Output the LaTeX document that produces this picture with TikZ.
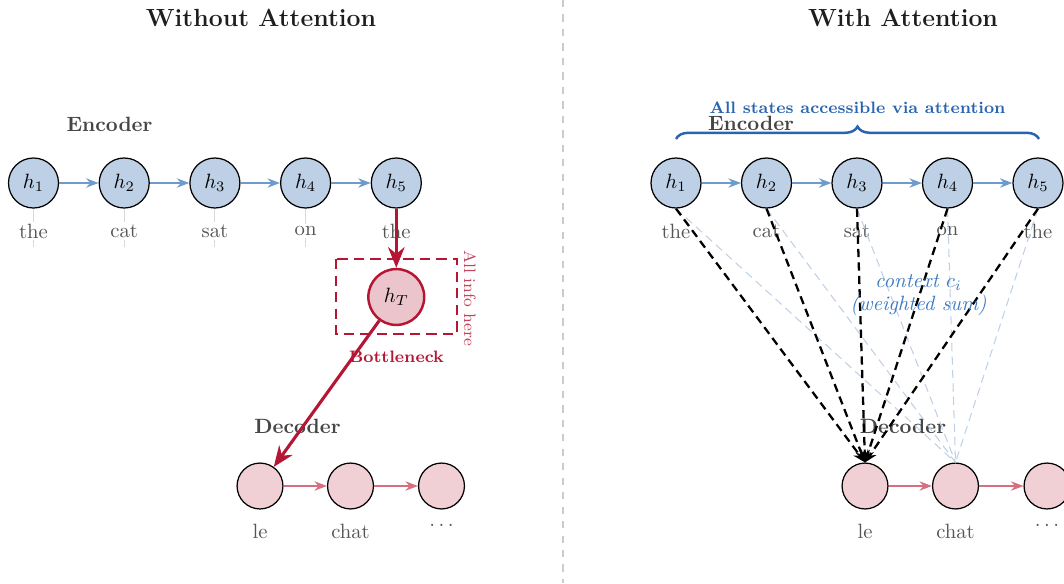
\documentclass[tikz,border=0pt]{standalone}
\usetikzlibrary{arrows.meta,decorations.pathreplacing}
\definecolor{encfill}{RGB}{189,208,230}
\definecolor{encarrow}{RGB}{110,155,205}
\definecolor{decfill}{RGB}{240,208,213}
\definecolor{decarrow}{RGB}{214,112,128}
\definecolor{crim}{RGB}{180,22,52}
\definecolor{hTfill}{RGB}{236,196,204}
\definecolor{bracecol}{RGB}{40,100,175}
\definecolor{ctxcol}{RGB}{60,122,192}
\definecolor{wordgray}{RGB}{85,85,85}
\definecolor{labgray}{RGB}{70,70,70}
\definecolor{titlecol}{RGB}{30,30,30}
\definecolor{attlight}{RGB}{190,208,230}
\begin{document}
\begin{tikzpicture}[x=0.017cm,y=-0.017cm,
  enc/.style={circle,draw=black,line width=0.6pt,fill=encfill,minimum size=0.85cm,inner sep=0pt},
  dec/.style={circle,draw=black,line width=0.6pt,fill=decfill,minimum size=0.78cm,inner sep=0pt},
  word/.style={text=wordgray,fill=white,inner sep=1pt},
  rword/.style={text=wordgray,inner sep=1pt},
  sect/.style={font=\bfseries,text=labgray,inner sep=1pt},
  title/.style={font=\large\bfseries,text=titlecol},
  tickline/.style={draw=gray!30,line width=0.5pt},
  encarr/.style={draw=encarrow,line width=1.1pt,-{Stealth[length=6pt,width=4.5pt]}},
  decarr/.style={draw=decarrow,line width=1.1pt,-{Stealth[length=6pt,width=4.5pt]}},
  crimarr/.style={draw=crim,line width=1.5pt,-{Stealth[length=10pt,width=8pt]}},
  attn/.style={draw=black,line width=1.1pt,dash pattern=on 4pt off 2.5pt,-{Stealth[length=6pt,width=5pt]}},
  attnlight/.style={draw=attlight,line width=0.5pt,dash pattern=on 4pt off 2.5pt}]
\useasboundingbox (0,0) rectangle (1064,583);

% divider
\coordinate (divtop) at (563,0);
\coordinate (divbot) at (563,583);
\draw[gray!40,line width=1pt,dash pattern=on 3.5pt off 3.5pt] (divtop) -- (divbot);

% titles
\node[title] (t1) at (261,18) {Without Attention};
\node[title] (t2) at (903,18) {With Attention};

% ===== left panel =====
\node[sect] (lenc) at (109.5,124) {Encoder};
\foreach \i/\x/\w in {1/33.5/the,2/124.2/cat,3/214.9/sat,4/305.6/on,5/396.3/the}{
  \node[enc] (lh\i) at (\x,183) {$h_{\i}$};
  \coordinate (ltk\i) at (\x,247);
  \draw[tickline] (lh\i.south) -- (ltk\i);
  \node[word] (lw\i) at (\x,231) {\w};
}
\foreach \i/\j in {1/2,2/3,3/4,4/5}{
  \draw[encarr] (lh\i) -- (lh\j);
}
\node[circle,draw=crim,line width=1.2pt,fill=hTfill,minimum size=0.95cm,inner sep=0pt] (hT) at (396.3,297) {$h_T$};
\draw[crimarr] (lh5.south) -- (hT.north);
\coordinate (bx1) at (336,259);
\coordinate (bx2) at (457,334);
\draw[crim,line width=1.2pt,dash pattern=on 5pt off 3pt] (bx1) rectangle (bx2);
\node[font=\footnotesize,text=crim!80,rotate=-90,inner sep=0pt] (allinfo) at (470,298) {All info here};
\node[font=\footnotesize\bfseries,text=crim,inner sep=0pt] (bottle) at (396.5,357) {Bottleneck};

\node[sect] (ldec) at (297.5,426) {Decoder};
\node[dec] (ld1) at (260,486) {};
\node[dec] (ld2) at (350.5,486) {};
\node[dec] (ld3) at (441.5,486) {};
\node[rword] (ldw1) at (260,531) {le};
\node[rword] (ldw2) at (350.5,531) {chat};
\node[rword] (ldw3) at (441.5,525) {$\dots$};
\draw[decarr] (ld1) -- (ld2);
\draw[decarr] (ld2) -- (ld3);
\draw[crimarr] (hT) -- (ld1);

% ===== right panel =====
\node[font=\footnotesize\bfseries,text=bracecol,inner sep=0pt] (allst) at (857.5,108) {All states accessible via attention};
\coordinate (brL) at (676,139);
\coordinate (brR) at (1039,139);
\draw[bracecol,line width=1.2pt,decorate,decoration={brace,amplitude=6pt}] (brL) -- (brR);
\node[sect] (renc) at (751,123) {Encoder};
\foreach \i/\x/\w in {1/676/the,2/766.5/cat,3/857/sat,4/947.5/on,5/1038/the}{
  \node[enc] (rh\i) at (\x,183) {$h_{\i}$};
  \node[rword] (rw\i) at (\x,231) {\w};
}
\foreach \i/\j in {1/2,2/3,3/4,4/5}{
  \draw[encarr] (rh\i) -- (rh\j);
}
\node[sect] (rdec) at (903,426) {Decoder};
\node[dec] (rd1) at (865,486) {};
\node[dec] (rd2) at (955.5,486) {};
\node[dec] (rd3) at (1047,486) {};
\node[rword] (rdw1) at (865,531) {le};
\node[rword] (rdw2) at (955.5,531) {chat};
\node[rword] (rdw3) at (1047,525) {$\dots$};
\draw[decarr] (rd1) -- (rd2);
\draw[decarr] (rd2) -- (rd3);
\foreach \i in {1,...,5}{
  \draw[attnlight] (rh\i.south) -- (rd2.north);
}
\foreach \i in {1,...,5}{
  \draw[attn] (rh\i.south) -- (rd1.north);
}
\node[text=ctxcol,align=center,font=\itshape,inner sep=0pt] (ctx) at (918.5,295) {context $c_i$\\[-1pt](weighted sum)};
\end{tikzpicture}
\end{document}
